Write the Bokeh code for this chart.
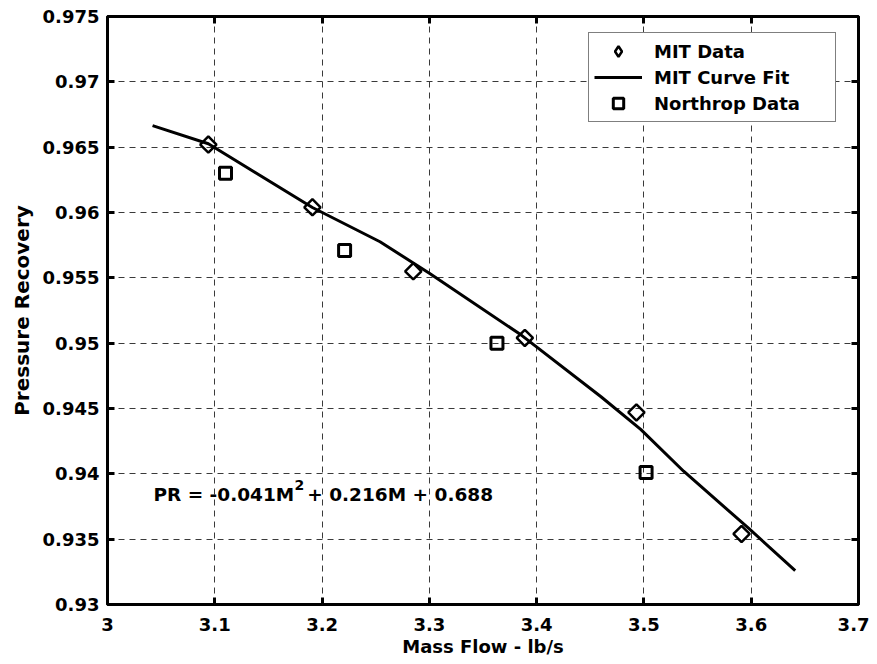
import numpy as np
from bokeh.plotting import figure
from bokeh.models import (LinearAxis, FixedTicker, Range1d, Legend, LegendItem,
                          Label, CustomJSTickFormatter)
from bokeh.embed import file_html
from bokeh.resources import INLINE

# ---- data ----
mit_x = [3.094, 3.191, 3.285, 3.389, 3.493, 3.591]
mit_y = [0.9652, 0.9604, 0.9555, 0.9504, 0.9447, 0.9354]

fit_x = [3.042, 3.094, 3.191, 3.254, 3.300, 3.386, 3.460, 3.497, 3.537, 3.598, 3.641]
fit_y = [0.96665, 0.96526, 0.96038, 0.95776, 0.95535, 0.9506, 0.9459, 0.9434, 0.9402,
         0.9358, 0.9326]

nor_x = [3.110, 3.221, 3.363, 3.502]
nor_y = [0.9630, 0.9571, 0.9500, 0.9401]

x_ticks = [3.0, 3.1, 3.2, 3.3, 3.4, 3.5, 3.6, 3.7]
x_tick_labels = ["3", "3.1", "3.2", "3.3", "3.4", "3.5", "3.6", "3.7"]
y_ticks = [0.93, 0.935, 0.94, 0.945, 0.95, 0.955, 0.96, 0.965, 0.97, 0.975]
y_tick_labels = ["0.93", "0.935", "0.94", "0.945", "0.95", "0.955", "0.96", "0.965", "0.97", "0.975"]

FONT = "DejaVu Sans"

p = figure(width=869, height=662, output_backend="svg", toolbar_location=None,
           x_range=Range1d(3.0, 3.7), y_range=Range1d(0.93, 0.975),
           min_border_left=107, min_border_right=11, min_border_top=16, min_border_bottom=58,
           x_axis_label="Mass Flow - lb/s", y_axis_label="Pressure Recovery")

p.outline_line_color = "black"
p.outline_line_width = 3
p.background_fill_color = "white"
p.border_fill_color = "white"

code = ("let i=0,b=1e9; for(let k=0;k<tvals.length;k++){const d=Math.abs(tvals[k]-tick);"
        "if(d<b){b=d;i=k;}} return tlabels[i];")
xfmt = CustomJSTickFormatter(args=dict(tvals=x_ticks, tlabels=x_tick_labels), code=code)
yfmt = CustomJSTickFormatter(args=dict(tvals=y_ticks, tlabels=y_tick_labels), code=code)
blank = CustomJSTickFormatter(code="return ''")


def style_axis(ax, ticks):
    ax.ticker = FixedTicker(ticks=ticks)
    ax.axis_line_color = None
    ax.major_tick_in = 7
    ax.major_tick_out = 0
    ax.major_tick_line_width = 3
    ax.major_tick_line_color = "black"
    ax.minor_tick_line_color = None
    ax.major_label_text_font = FONT
    ax.major_label_text_font_style = "bold"
    ax.major_label_text_font_size = "18px"
    ax.major_label_text_color = "black"
    ax.axis_label_text_font = FONT
    ax.axis_label_text_font_style = "bold"
    ax.axis_label_text_color = "black"


xa = p.xaxis[0]
style_axis(xa, x_ticks)
xa.formatter = xfmt
xa.major_label_standoff = 13
xa.axis_label_standoff = 2
xa.axis_label_text_font_size = "18px"

ya = p.yaxis[0]
style_axis(ya, y_ticks)
ya.formatter = yfmt
ya.major_label_standoff = 8
ya.axis_label_standoff = 6
ya.axis_label_text_font_size = "20px"

top = LinearAxis()
style_axis(top, x_ticks)
top.formatter = blank
top.major_label_standoff = 0
p.add_layout(top, "above")

right = LinearAxis()
style_axis(right, y_ticks)
right.formatter = blank
right.major_label_standoff = 0
p.add_layout(right, "right")

for g, t in ((p.xgrid[0], x_ticks), (p.ygrid[0], y_ticks)):
    g.ticker = FixedTicker(ticks=t)
    g.grid_line_color = "#3a3a3a"
    g.grid_line_dash = "6 5"
    g.grid_line_width = 1

r_fit = p.line(fit_x, fit_y, line_color="black", line_width=3, line_join="round")
r_mit = p.scatter(mit_x, mit_y, marker="square", angle=np.pi / 4, size=11.5,
                  fill_color=None, line_color="black", line_width=2.5)
# same MIT data as a diamond marker, used only for the legend swatch
r_mit_key = p.scatter(mit_x, mit_y, marker="diamond", size=16,
                      fill_color=None, line_color="black", line_width=2.5, visible=False)
r_nor = p.scatter(nor_x, nor_y, marker="square", size=12,
                  fill_color=None, line_color="black", line_width=3)

legend = Legend(items=[LegendItem(label="MIT Data", renderers=[r_mit_key]),
                       LegendItem(label="MIT Curve Fit", renderers=[r_fit]),
                       LegendItem(label="Northrop Data", renderers=[r_nor])],
                location=(481, 482))
legend.border_line_color = "black"
legend.border_line_width = 1
legend.background_fill_color = "white"
legend.background_fill_alpha = 1
legend.padding = 5
legend.spacing = 0
legend.margin = 0
legend.label_height = 26
legend.glyph_height = 26
legend.glyph_width = 48
legend.label_standoff = 12
legend.label_width = 176
legend.label_text_font = FONT
legend.label_text_font_style = "bold"
legend.label_text_font_size = "18px"
legend.label_text_color = "black"
p.add_layout(legend, "center")

# equation annotation
eq_y = 0.93845
for txt, xx, yy, fs in (("PR = -0.041M", 3.0428, eq_y, "18.5px"),
                        ("2", 3.1743, eq_y + 0.00068, "14px"),
                        ("+ 0.216M + 0.688", 3.1862, eq_y, "18.5px")):
    p.add_layout(Label(x=xx, y=yy, text=txt, text_font=FONT, text_font_style="bold",
                       text_font_size=fs, text_color="black",
                       text_align="left", text_baseline="middle"))

open("out.html", "w").write(file_html(p, INLINE))
